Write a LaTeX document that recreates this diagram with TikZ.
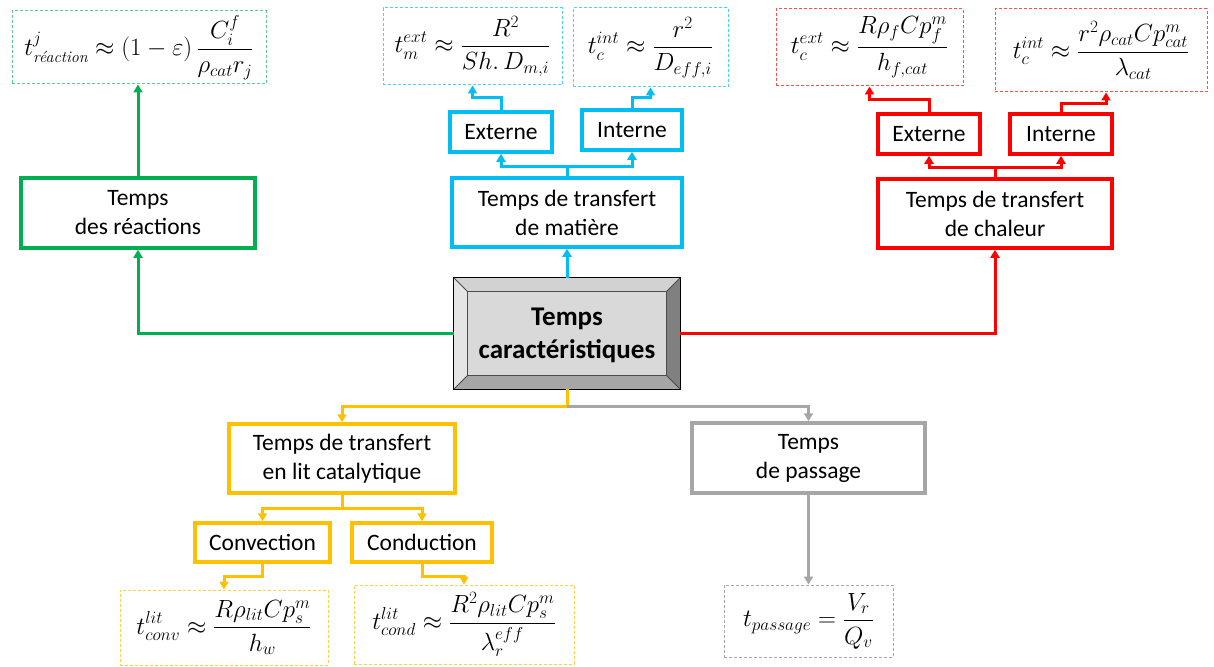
\documentclass[tikz,border=0pt]{standalone}
\usepackage{amsmath}
\usepackage{fontspec}
\newfontfamily\lab{Carlito}
\usetikzlibrary{arrows.meta}
\definecolor{cgreen}{HTML}{00B050}
\definecolor{ccyan}{HTML}{00BEF2}
\definecolor{cred}{HTML}{FF0000}
\definecolor{cyel}{HTML}{FFC000}
\definecolor{cgray}{HTML}{A6A6A6}
\tikzset{
  box/.style={draw=#1, line width=3.5pt, fill=white, inner sep=0pt, align=center,
    font=\lab\fontsize{23.5}{29}\selectfont, text=black},
  fbox/.style={draw=#1, line width=1pt, dash pattern=on 3pt off 2pt, inner sep=0pt,
    font=\fontsize{23}{27}\selectfont},
  arr/.style={draw=#1, line width=3pt, -{Triangle[length=8pt,width=9pt]}},
  ln/.style={draw=#1, line width=3pt},
}
\begin{document}
\begin{tikzpicture}[x=1pt,y=-1pt]
\useasboundingbox (0,0) rectangle (1214,666);
% central bevelled node
\node[minimum width=226pt, minimum height=111pt, inner sep=0pt] (C) at (567,333.5) {};
\fill[gray!20!white] (C.north west) -- (C.south west) -- ([shift={(14,-14)}]C.south west) -- ([shift={(14,14)}]C.north west) -- cycle;
\fill[gray!35!white] (C.north west) -- (C.north east) -- ([shift={(-14,14)}]C.north east) -- ([shift={(14,14)}]C.north west) -- cycle;
\fill[black!50] (C.north east) -- (C.south east) -- ([shift={(-14,-14)}]C.south east) -- ([shift={(-14,14)}]C.north east) -- cycle;
\fill[black!35] (C.south west) -- (C.south east) -- ([shift={(-14,-14)}]C.south east) -- ([shift={(14,-14)}]C.south west) -- cycle;
\fill[gray!30!white] ([shift={(14,14)}]C.north west) rectangle ([shift={(-14,-14)}]C.south east);
\draw[line width=1pt] (C.north west) rectangle (C.south east);
\draw[line width=0.8pt, black!70] ([shift={(14,14)}]C.north west) rectangle ([shift={(-14,-14)}]C.south east);
\draw[line width=0.8pt, black!70] (C.north west) -- ([shift={(14,14)}]C.north west)
  (C.north east) -- ([shift={(-14,14)}]C.north east)
  (C.south west) -- ([shift={(14,-14)}]C.south west)
  (C.south east) -- ([shift={(-14,-14)}]C.south east);
\node[align=center, font=\lab\bfseries\fontsize{27}{33}\selectfont] (Ct) at (567,335) {Temps\\caractéristiques};

% green
\node[box=cgreen, minimum width=234pt, minimum height=70pt] (gr) at (138,213) {Temps\\des réactions};
\node[fbox=cgreen!65!white, minimum width=254pt, minimum height=73pt] (gf) at (139,47.5)
  {$\displaystyle t^{j}_{\text{\itshape réaction}} \approx (1-\varepsilon)\,\frac{C_i^{f}}{\rho_{cat}r_j}$};
\draw[arr=cgreen] (C.west) -| (gr.south);
\draw[arr=cgreen] (gr.north) -- (gr.north |- gf.south);

% cyan
\node[box=ccyan, minimum width=230pt, minimum height=69pt] (cM) at (567,212.5) {Temps de transfert\\de matière};
\node[box=ccyan, minimum width=102pt, minimum height=40pt] (cE) at (501,132) {Externe};
\node[box=ccyan, minimum width=100pt, minimum height=40pt] (cI) at (632,130) {Interne};
\node[fbox=ccyan!70!white, minimum width=179pt, minimum height=77pt] (cf1) at (472.5,46.5)
  {$\displaystyle t_m^{ext} \approx \frac{R^2}{Sh.\,D_{m,i}}$};
\node[fbox=ccyan!70!white, minimum width=155pt, minimum height=79pt] (cf2) at (650.5,47.5)
  {$\displaystyle t_c^{int} \approx \frac{r^2}{D_{eff,i}}$};
\draw[arr=ccyan] (C.north) -- (cM.south);
\coordinate (cj) at (567,166);
\draw[ln=ccyan] (cM.north) -- (cj);
\draw[arr=ccyan] (cj) -| (cE.south);
\draw[arr=ccyan] (cj) -| (cI.south);
\coordinate (ce1) at (501,98);
\coordinate (ci1) at (632,98);
\draw[arr=ccyan] (cE.north) -- (ce1) -| (cf1.south);
\draw[arr=ccyan] (cI.north) -- (ci1) -| (cf2.south);

% red
\node[box=cred, minimum width=234pt, minimum height=69pt] (rH) at (995,213.5) {Temps de transfert\\de chaleur};
\node[box=cred, minimum width=102pt, minimum height=40pt] (rE) at (929,134) {Externe};
\node[box=cred, minimum width=102pt, minimum height=40pt] (rI) at (1061,134) {Interne};
\node[fbox=cred!70!white, minimum width=187pt, minimum height=77pt] (rf1) at (869.5,47.5)
  {$\displaystyle t_c^{ext} \approx \frac{R\rho_f Cp_f^{m}}{h_{f,cat}}$};
\node[fbox=cred!70!white, minimum width=212pt, minimum height=83pt] (rf2) at (1101,50.5)
  {$\displaystyle t_c^{int} \approx \frac{r^2\rho_{cat}Cp_{cat}^{m}}{\lambda_{cat}}$};
\draw[arr=cred] (C.east) -| (rH.south);
\coordinate (rj) at (995,167);
\draw[ln=cred] (rH.north) -- (rj);
\draw[arr=cred] (rj) -| (rE.south);
\draw[arr=cred] (rj) -| (rI.south);
\coordinate (re1) at (929,100);
\coordinate (ri1) at (1061,104);
\coordinate (ri2) at (1106,104);
\draw[arr=cred] (rE.north) -- (re1) -| (rf1.south);
\draw[arr=cred] (rI.north) -- (ri1) -- (ri2) -- (ri2 |- rf2.south);

% yellow
\node[box=cyel, minimum width=226pt, minimum height=69pt] (yL) at (342,458.5) {Temps de transfert\\en lit catalytique};
\node[box=cyel, minimum width=135pt, minimum height=39pt] (yCv) at (262.5,542.5) {Convection};
\node[box=cyel, minimum width=140pt, minimum height=39pt] (yCd) at (422,542.5) {Conduction};
\node[fbox=cyel!75!white, minimum width=208pt, minimum height=75pt] (yf1) at (224,627.5)
  {$\displaystyle t_{conv}^{lit} \approx \frac{R\rho_{lit}Cp_s^{m}}{h_w}$};
\node[fbox=cyel!75!white, minimum width=220pt, minimum height=79pt] (yf2) at (464,624.5)
  {$\displaystyle t_{cond}^{lit} \approx \frac{R^2\rho_{lit}Cp_s^{m}}{\rule{0pt}{24pt}\lambda_{r}^{\raisebox{4pt}{$\scriptstyle eff$}}}$};
\coordinate (bj) at (567,406);
\draw[ln=cyel] (C.south) -- (bj);
\draw[arr=cyel] (bj) -| (yL.north);
\coordinate (yj) at (342,508);
\draw[ln=cyel] (yL.south) -- (yj);
\draw[arr=cyel] (yj) -| (yCv.north);
\draw[arr=cyel] (yj) -| (yCd.north);
\coordinate (yv1) at (262.5,576);
\coordinate (yd1) at (422,576);
\draw[arr=cyel] (yCv.south) -- (yv1) -| (yf1.north);
\draw[arr=cyel] (yCd.south) -- (yd1) -| (yf2.north);

% gray
\node[box=cgray, minimum width=233pt, minimum height=70pt] (gP) at (808.5,458) {Temps\\de passage};
\node[fbox=cgray, minimum width=169pt, minimum height=72pt] (pf) at (808.5,621)
  {$\displaystyle t_{passage} = \frac{V_r}{Q_v}$};
\draw[arr=cgray] (bj) -| (gP.north);
\draw[arr=cgray] (gP.south) -- (pf.north);
\end{tikzpicture}
\end{document}
